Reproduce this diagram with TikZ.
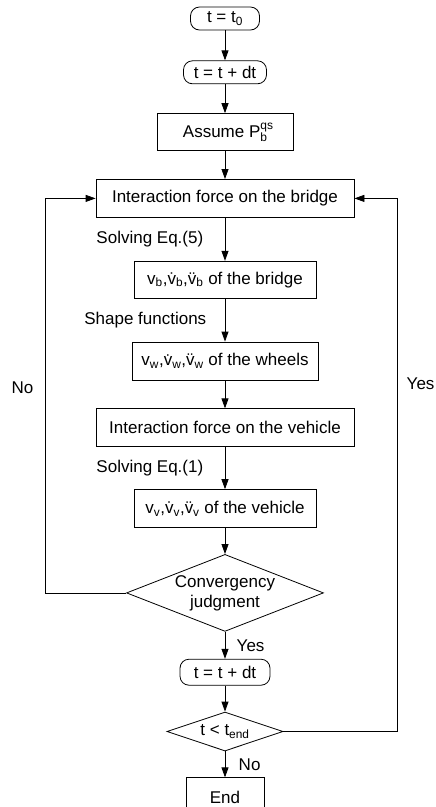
\documentclass[tikz,border=0pt]{standalone}
\usepackage{fontspec}
\setmainfont{Liberation Sans}
\usetikzlibrary{shapes.geometric, arrows.meta, positioning}

\newcommand{\smalltxt}[1]{{\fontsize{12}{12}\selectfont #1}}

\begin{document}
\begin{tikzpicture}[
      x=1pt, y=-1pt,
      font=\fontsize{17}{20}\selectfont,
      line width=0.8pt,
      node distance=28pt,
      term/.style={rectangle, draw, rounded corners=9pt, inner sep=2pt, minimum height=23pt, text centered},
      box/.style={rectangle, draw, minimum height=37pt, text centered},
      decision/.style={diamond, draw, inner sep=-1pt, align=center},
      arrow/.style={-{Triangle[length=10pt,width=7pt]}}
    ]
      \useasboundingbox (0,0) rectangle (436,807);

      \node (start) [term, minimum width=69pt] at (225,18.5) {t = t\textsubscript{0}};
      \node (step) [term, minimum width=83pt, below=30pt of start] {t = t + dt};
      \node (assume) [box, minimum width=136pt, below=29pt of step] {Assume P\rlap{\raisebox{8pt}{\smalltxt{qs}}}\raisebox{-3.5pt}{\smalltxt{b}}};
      \node (fbridge) [box, minimum width=258pt, minimum height=38pt, below=of assume] {Interaction force on the bridge};
      \node (vbridge) [box, minimum width=182pt, below=43pt of fbridge] {v\textsubscript{b},v̇\textsubscript{b},v̈\textsubscript{b} of the bridge};
      \node (vwheel) [box, minimum width=186pt, minimum height=38pt, below=43pt of vbridge] {v\textsubscript{w},v̇\textsubscript{w},v̈\textsubscript{w} of the wheels};
      \node (fvehicle) [box, minimum width=258pt, minimum height=38pt, below=of vwheel] {Interaction force on the vehicle};
      \node (vvehicle) [box, minimum width=182pt, minimum height=38pt, below=42pt of fvehicle] {v\textsubscript{v},v̇\textsubscript{v},v̈\textsubscript{v} of the vehicle};
      \node (conv) [decision, aspect=2.56, minimum width=197pt, minimum height=77pt, below=26pt of vvehicle] {Convergency\\judgment};
      \node (step2) [term, minimum width=90pt, minimum height=26pt, below=27pt of conv] {t = t + dt};
      \node (tend) [decision, aspect=3, minimum width=116pt, minimum height=39pt, below=26pt of step2] {t < t\textsubscript{end}};
      \node (finish) [box, minimum width=78pt, minimum height=40pt, below=26pt of tend] {End};

      \coordinate (loopL) at (45,0);
      \coordinate (loopR) at (397,0);

      \draw [arrow] (start) -- (step);
      \draw [arrow] (step) -- (assume);
      \draw [arrow] (assume) -- (fbridge);
      \draw [arrow] (fbridge) -- node[left=18pt] {Solving Eq.(5)} (vbridge);
      \draw [arrow] (vbridge) -- node[left=15pt] {Shape functions} (vwheel);
      \draw [arrow] (vwheel) -- (fvehicle);
      \draw [arrow] (fvehicle) -- node[left=18pt] {Solving Eq.(1)} (vvehicle);
      \draw [arrow] (vvehicle) -- (conv);
      \draw [arrow] (conv) -- node[right=8pt] {Yes} (step2);
      \draw [arrow] (step2) -- (tend);
      \draw [arrow] (tend) -- node[right=10pt] {No} (finish);
      \draw [arrow] (conv.west) -- (conv.west -| loopL) -- node[pos=0.52, left=8pt] {No} (fbridge.west -| loopL) -- (fbridge.west);
      \draw [arrow] (tend.east) -- (tend.east -| loopR) -- node[pos=0.653, right=6pt] {Yes} (fbridge.east -| loopR) -- (fbridge.east);
    \end{tikzpicture}
\end{document}
